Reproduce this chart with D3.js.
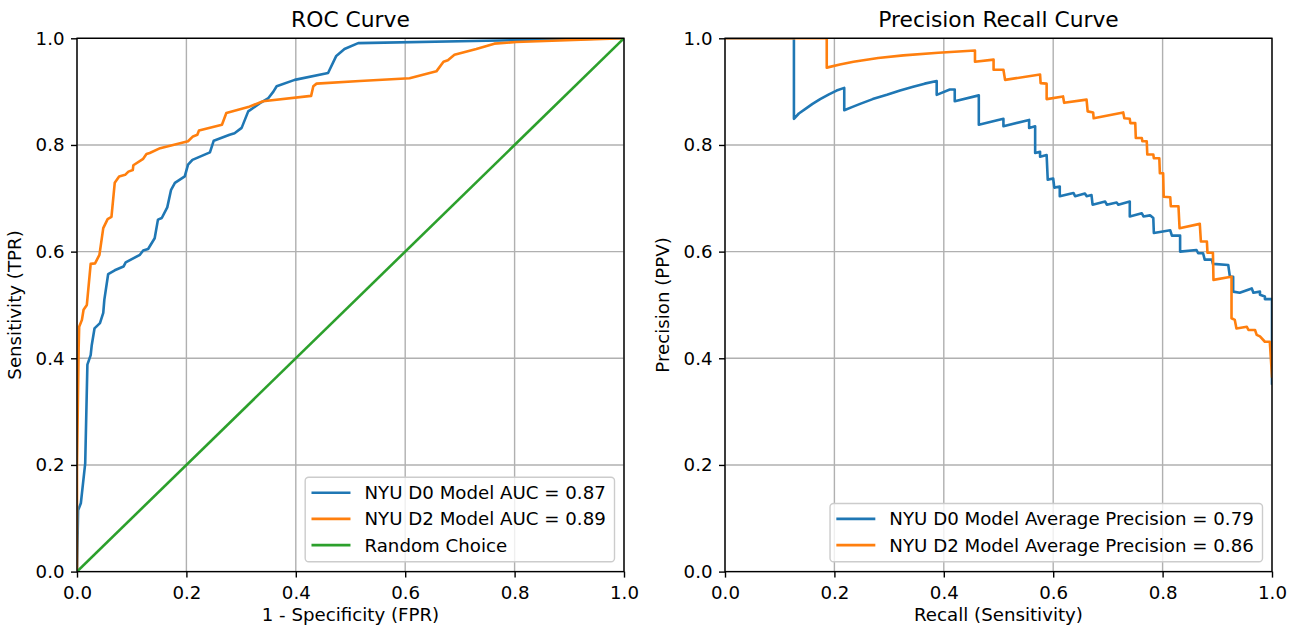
<!DOCTYPE html>
<html>
<head>
<meta charset="utf-8">
<script src="https://cdn.jsdelivr.net/npm/d3@7"></script>
<style>
  body { margin: 0; background: #fff; }
  svg text { font-family: "DejaVu Sans", sans-serif; fill: #000; }
</style>
</head>
<body>
<svg id="chart" width="1300" height="631"></svg>
<script>
// ROC curves: [fpr, tpr]
let rocD0 = [[0,0],[0.002,0.115],[0.007,0.128],[0.015,0.203],[0.019,0.388],[0.025,0.406],[0.027,0.425],
  [0.032,0.456],[0.042,0.466],[0.048,0.485],[0.050,0.51],[0.057,0.558],[0.069,0.565],[0.085,0.572],
  [0.089,0.580],[0.115,0.594],[0.121,0.602],[0.130,0.605],[0.142,0.625],[0.148,0.660],[0.155,0.663],
  [0.165,0.683],[0.172,0.716],[0.179,0.729],[0.197,0.741],[0.203,0.763],[0.211,0.772],[0.243,0.786],
  [0.250,0.808],[0.279,0.819],[0.288,0.822],[0.301,0.832],[0.313,0.863],[0.337,0.880],[0.350,0.888],
  [0.359,0.900],[0.365,0.910],[0.398,0.922],[0.459,0.935],[0.474,0.967],[0.489,0.980],[0.514,0.991],
  [0.773,0.996],[1,1]];
let rocD2 = [[0,0],[0,0.20],[0.003,0.42],[0.004,0.459],[0.009,0.472],[0.012,0.491],[0.018,0.500],
  [0.025,0.577],[0.033,0.578],[0.041,0.594],[0.048,0.644],[0.056,0.661],[0.063,0.665],[0.069,0.729],
  [0.077,0.741],[0.088,0.744],[0.094,0.750],[0.102,0.753],[0.103,0.762],[0.121,0.774],[0.127,0.783],
  [0.133,0.785],[0.152,0.794],[0.203,0.807],[0.212,0.816],[0.220,0.819],[0.223,0.827],[0.265,0.838],
  [0.273,0.860],[0.313,0.871],[0.340,0.882],[0.428,0.892],[0.432,0.910],[0.438,0.915],[0.517,0.920],
  [0.608,0.925],[0.657,0.938],[0.670,0.956],[0.678,0.959],[0.690,0.969],[0.730,0.980],[0.763,0.990],
  [0.803,0.993],[1,1]];
let rocRandom = [[0,0],[1,1]];

// PR curves: [recall, precision]
let prD0 = [[0,1],[0.126,1],[0.126,0.849],[0.135,0.859],[0.149,0.869],[0.160,0.877],[0.174,0.886],
  [0.190,0.895],[0.204,0.902],[0.218,0.907],
  [0.218,0.865],[0.232,0.871],[0.247,0.877],[0.270,0.886],[0.296,0.894],[0.320,0.902],[0.344,0.909],
  [0.365,0.915],[0.387,0.920],[0.387,0.894],[0.411,0.904],
  [0.420,0.904],[0.420,0.882],[0.464,0.893],[0.464,0.838],[0.509,0.849],[0.509,0.835],[0.556,0.847],
  [0.556,0.832],[0.567,0.835],[0.567,0.785],[0.576,0.787],[0.576,0.778],[0.588,0.781],[0.590,0.735],
  [0.600,0.737],[0.602,0.720],[0.612,0.722],[0.612,0.704],[0.637,0.710],[0.640,0.704],[0.658,0.709],
  [0.661,0.704],[0.670,0.706],[0.672,0.688],[0.695,0.694],[0.698,0.688],[0.716,0.692],[0.719,0.688],
  [0.740,0.694],[0.740,0.666],[0.762,0.672],[0.765,0.666],[0.777,0.668],[0.783,0.663],[0.784,0.635],
  [0.814,0.640],[0.817,0.630],[0.832,0.630],[0.832,0.600],[0.862,0.603],[0.865,0.597],[0.874,0.597],
  [0.877,0.585],[0.890,0.585],[0.892,0.577],[0.920,0.575],[0.923,0.553],[0.929,0.553],[0.929,0.525],
  [0.941,0.523],[0.963,0.531],[0.966,0.523],[0.978,0.525],[0.978,0.519],[0.987,0.516],[0.987,0.511],
  [1.0,0.511],[1.0,0.353]];
let prD2 = [[0,1],[0.186,1],[0.186,0.945],[0.210,0.951],[0.235,0.956],[0.280,0.963],[0.326,0.968],
  [0.390,0.973],[0.457,0.977],[0.457,0.956],
  [0.491,0.960],[0.491,0.941],[0.509,0.941],[0.512,0.922],[0.576,0.932],[0.577,0.916],[0.588,0.915],
  [0.588,0.886],[0.618,0.891],[0.620,0.879],[0.661,0.885],[0.663,0.863],[0.673,0.861],[0.674,0.850],
  [0.728,0.861],[0.730,0.850],[0.740,0.849],[0.741,0.841],[0.750,0.841],[0.751,0.813],[0.762,0.813],
  [0.763,0.807],[0.771,0.807],[0.772,0.782],[0.783,0.782],[0.784,0.775],[0.794,0.775],[0.795,0.747],
  [0.801,0.747],[0.802,0.703],[0.814,0.702],[0.815,0.685],[0.829,0.685],[0.831,0.644],[0.868,0.652],
  [0.870,0.619],[0.881,0.619],[0.882,0.598],[0.892,0.598],[0.893,0.547],[0.920,0.552],[0.926,0.553],
  [0.926,0.475],[0.932,0.472],[0.935,0.456],[0.954,0.459],[0.957,0.453],[0.969,0.453],[0.972,0.444],
  [0.978,0.441],[0.987,0.431],[0.996,0.431],[1.0,0.366]];

let tickValues = [0, 0.2, 0.4, 0.6, 0.8, 1.0];
let rocLabels = ["NYU D0 Model AUC = 0.87", "NYU D2 Model AUC = 0.89", "Random Choice"];
let prLabels = ["NYU D0 Model Average Precision = 0.79", "NYU D2 Model Average Precision = 0.86"];
let colors = ["#1f77b4", "#ff7f0e", "#2ca02c"];

let svg = d3.select("#chart");
let fontSize = 18.2;
let plotTop = 38.3, plotBottom = 571.6;

function drawPanel(id, left, right, title, xLabel, yLabel, series, labels) {
  let x = d3.scaleLinear().domain([0, 1]).range([left, right]);
  let y = d3.scaleLinear().domain([0, 1]).range([plotBottom, plotTop]);
  let g = svg.append("g").attr("class", id);

  g.append("clipPath").attr("id", "clip-" + id)
    .append("rect").attr("x", left).attr("y", plotTop).attr("width", right - left).attr("height", plotBottom - plotTop);

  // grid
  g.append("g").selectAll("line").data(tickValues).join("line")
    .attr("x1", d => x(d)).attr("x2", d => x(d)).attr("y1", plotTop).attr("y2", plotBottom)
    .attr("stroke", "#b0b0b0").attr("stroke-width", 1.4);
  g.append("g").selectAll("line").data(tickValues).join("line")
    .attr("y1", d => y(d)).attr("y2", d => y(d)).attr("x1", left).attr("x2", right)
    .attr("stroke", "#b0b0b0").attr("stroke-width", 1.4);

  // curves
  let line = d3.line().x(d => x(d[0])).y(d => y(d[1]));
  series.forEach(function (s, i) {
    g.append("path").datum(s)
      .attr("d", line)
      .attr("fill", "none")
      .attr("stroke", colors[i])
      .attr("stroke-width", 2.6)
      .attr("stroke-linejoin", "round")
      .attr("stroke-linecap", "square")
      .attr("clip-path", "url(#clip-" + id + ")");
  });

  // axes
  let fmt = d3.format(".1f");
  let xAxis = g.append("g").attr("transform", "translate(0," + plotBottom + ")")
    .call(d3.axisBottom(x).tickValues(tickValues).tickFormat(fmt).tickSize(6).tickPadding(6.5));
  let yAxis = g.append("g").attr("transform", "translate(" + left + ",0)")
    .call(d3.axisLeft(y).tickValues(tickValues).tickFormat(fmt).tickSize(6).tickPadding(6.5));
  [xAxis, yAxis].forEach(function (a) {
    a.select(".domain").remove();
    a.selectAll(".tick line").attr("stroke", "#000").attr("stroke-width", 1.4);
    a.selectAll(".tick text").style("font-size", fontSize + "px").attr("fill", "#000")
      .style("font-family", "DejaVu Sans");
  });
  xAxis.selectAll(".tick text").attr("dy", null).attr("y", 27.9);

  // spines
  g.append("rect").attr("x", left).attr("y", plotTop).attr("width", right - left).attr("height", plotBottom - plotTop)
    .attr("fill", "none").attr("stroke", "#000").attr("stroke-width", 1.4);

  // labels
  g.append("text").attr("x", (left + right) / 2).attr("y", 27.3)
    .attr("text-anchor", "middle").style("font-size", "21.8px").text(title);
  g.append("text").attr("x", (left + right) / 2).attr("y", 621)
    .attr("text-anchor", "middle").style("font-size", fontSize + "px").text(xLabel);
  g.append("text")
    .attr("transform", "translate(" + (left - 56.5) + "," + ((plotTop + plotBottom) / 2) + ") rotate(-90)")
    .attr("text-anchor", "middle").style("font-size", fontSize + "px").text(yLabel);

  // legend
  let lg = g.append("g").attr("class", "legend");
  let box = lg.append("rect");
  let texts = lg.selectAll("text").data(labels).join("text")
    .style("font-size", fontSize + "px").text(d => d);
  let textW = d3.max(texts.nodes(), n => n.getComputedTextLength());
  let rowH = 26.2;
  let boxW = 6.3 + 39 + 14 + textW + 8.7;
  let boxH = 15.4 + (labels.length - 1) * rowH + 16.7;
  let bx = right - 9.5 - boxW, by = plotBottom - 9.8 - boxH;
  box.attr("x", bx).attr("y", by).attr("width", boxW).attr("height", boxH)
    .attr("rx", 3.5).attr("fill", "#fff").attr("fill-opacity", 0.8)
    .attr("stroke", "#cccccc").attr("stroke-width", 1.4);
  lg.selectAll("line").data(labels).join("line")
    .attr("x1", bx + 6.3).attr("x2", bx + 6.3 + 39)
    .attr("y1", (d, i) => by + 15.4 + i * rowH).attr("y2", (d, i) => by + 15.4 + i * rowH)
    .attr("stroke", (d, i) => colors[i]).attr("stroke-width", 2.6);
  texts.attr("x", bx + 6.3 + 39 + 14).attr("y", (d, i) => by + 15.4 + i * rowH + 6.5);
}

drawPanel("roc", 77, 624, "ROC Curve", "1 - Specificity (FPR)", "Sensitivity (TPR)",
  [rocD0, rocD2, rocRandom], rocLabels);
drawPanel("pr", 725, 1272, "Precision Recall Curve", "Recall (Sensitivity)", "Precision (PPV)",
  [prD0, prD2], prLabels);
</script>
</body>
</html>
